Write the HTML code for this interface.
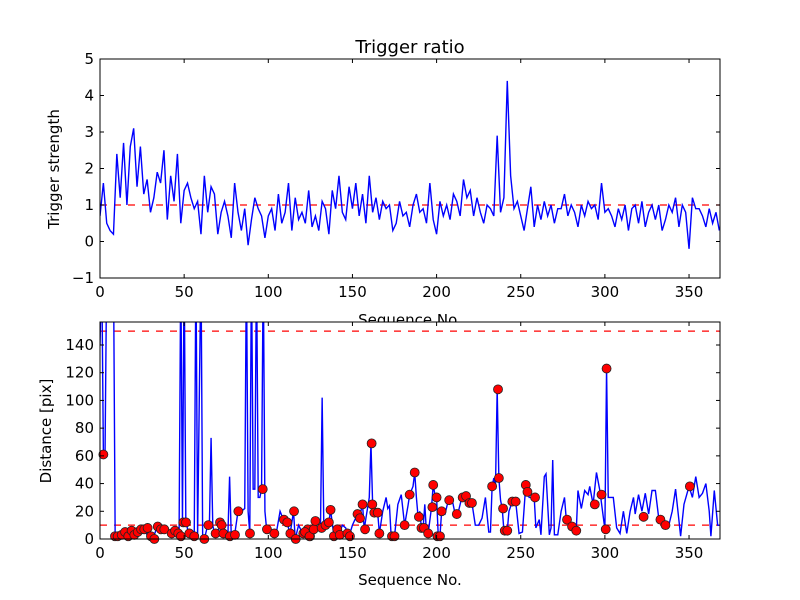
<!DOCTYPE html>
<html><head><meta charset="utf-8"><style>
html,body{margin:0;padding:0;background:#fff;}
svg{display:block;font-family:"DejaVu Sans","Liberation Sans",sans-serif;}
</style></head><body>
<svg id="fig" width="800" height="600" viewBox="0 0 800 600">
<rect width="800" height="600" fill="#fff"/>
<defs>
<clipPath id="c1"><rect x="100" y="59" width="620" height="219"/></clipPath>
<clipPath id="c2"><rect x="100" y="322" width="620" height="217"/></clipPath>
</defs>
<text x="410" y="53" font-size="18" text-anchor="middle">Trigger ratio</text>
<text x="410" y="325" font-size="15" text-anchor="middle">Sequence No.</text>
<g id="top"></g>
<g id="bot"></g>
<text x="410" y="585" font-size="15" text-anchor="middle">Sequence No.</text>
<text transform="translate(59,169) rotate(-90)" font-size="15" text-anchor="middle">Trigger strength</text>
<text transform="translate(51,431) rotate(-90)" font-size="15" text-anchor="middle">Distance [pix]</text>
</svg>
<script>
// Top chart: trigger strength sampled every 2 sequence numbers
const topSeq = [];
const topVals = [0.7,1.6,0.5,0.3,0.2,2.4,1.2,2.7,1.0,2.6,3.1,1.5,2.6,1.3,1.7,0.8,1.2,1.9,1.6,2.5,0.6,1.8,1.1,2.4,0.5,1.4,1.6,1.2,0.9,1.1,0.2,1.8,0.8,1.5,1.3,0.2,0.8,1.1,0.7,0.1,1.6,0.8,0.3,0.9,-0.1,0.6,1.2,0.9,0.7,0.1,0.7,0.9,0.3,1.3,0.5,0.8,1.6,0.3,1.2,0.6,0.8,0.5,1.4,0.4,0.7,0.3,1.1,0.9,0.2,1.4,0.9,1.8,0.8,0.6,1.5,0.9,1.6,0.7,1.3,0.5,1.8,0.8,1.2,0.6,1.1,0.9,1.0,0.3,0.5,1.1,0.7,0.8,0.4,1.0,1.3,0.8,0.9,0.5,1.6,0.6,0.2,1.1,0.7,1.0,0.6,1.3,1.1,0.7,1.7,1.2,1.4,0.7,1.2,0.8,0.5,1.0,0.9,0.7,2.9,0.8,1.2,4.4,1.8,0.9,1.1,0.7,0.3,0.9,1.5,0.4,1.0,0.6,1.1,0.7,1.0,0.5,0.9,0.9,1.3,0.7,1.0,0.8,0.4,1.0,0.7,1.1,0.9,1.0,0.6,1.6,0.8,0.9,0.7,0.4,0.9,0.6,1.0,0.3,0.9,1.0,0.5,1.1,0.4,0.8,1.0,0.6,1.0,0.3,0.6,1.0,0.8,1.2,0.4,1.0,0.8,-0.2,1.2,0.9,0.9,0.7,0.4,0.9,0.5,0.8,0.3];
for (let i = 0; i < topVals.length; i++) topSeq.push(i * 2);
const topTicksY = [-1,0,1,2,3,4,5];
const ticksX = [0,50,100,150,200,250,300,350];
const topThreshold = [1];

// Bottom chart
const botSeq = [0,1,2,3,4,8,9,10,12,14,16,18,20,22,24,26,28,30,32,34,36,38,40,42,44,46,47,48,49,50,51,53,56,57,58,60,61,62,64,65,66,67,68,70,72,74,76,77,78,80,82,84,86,87,88,89,90,91,92,93,94,95,96,97,98,99,101,103,105,107,109,111,113,115,116,118,120,122,124,126,128,130,131,132,133,134,136,137,139,141,142,144,146,147,148,150,153,154,156,157,158,160,161,162,163,165,166,168,170,171,172,173,175,177,179,181,183,184,186,187,188,189,190,191,192,193,194,195,197,198,199,200,201,202,203,205,207,209,211,212,213,215,217,219,221,223,225,227,229,231,232,233,234,235,236,237,238,239,240,242,243,245,247,249,251,253,255,258,259,261,262,264,265,267,268,269,270,272,274,276,277,279,281,283,284,286,288,290,291,293,295,297,300,301,302,303,305,307,309,311,313,315,317,318,320,322,324,326,328,330,332,334,336,338,340,342,345,347,350,352,354,356,358,360,362,363,365,367,368];
const botVals = [140,200,62,62,200,200,2,3,2,5,3,6,4,7,5,8,3,1,2,9,7,7,5,4,6,2,5,200,12,200,12,3,2,200,3,200,1,0,10,10,73,10,4,6,10,4,3,45,2,3,20,20,22,200,20,4,200,36,36,200,30,30,36,200,20,7,8,4,6,20,14,12,4,20,0,10,5,4,2,7,13,10,8,102,8,10,12,21,2,7,3,10,8,4,2,10,18,15,25,7,15,30,69,25,19,19,4,20,30,22,24,2,2,25,32,10,24,32,38,48,30,16,20,8,8,25,4,4,23,39,32,30,2,2,20,18,28,30,18,18,20,30,31,26,26,10,10,15,30,5,5,38,44,38,108,44,28,22,6,6,20,27,27,4,5,39,30,30,8,14,3,45,47,3,8,57,3,3,20,30,15,10,5,6,35,22,35,32,38,25,48,35,7,123,30,30,30,8,4,20,4,20,30,18,32,20,33,18,35,35,15,13,8,10,20,36,2,25,38,30,45,30,33,40,20,2,35,10,10];
const dotSeq = [2,8.9,10.5,12.9,14.9,16.8,18.8,20.4,22.4,24.4,26.3,28.3,30.3,32.3,34.3,36.2,38.2,42.6,44.6,46.5,48.1,49.5,51.1,53.1,56,62,64.4,68.7,71.3,72.3,73.3,77.2,80.2,82.2,89.1,96.7,99.2,103.6,109.3,111.3,113.1,115.3,116.3,120.8,123.4,124.8,121.8,124.5,127,128,131.7,134,136,137,139,141,142.5,147,148.5,153,154.5,156,157.5,161.4,161.8,163,165,166,173.5,175,181,184,187,189.5,191,192.5,195,197.5,198,200,200.5,202,203,207.5,212,215.5,217.5,219.5,221,233,236.5,237,239.5,240.5,242,245,247,253,254,258.5,277.5,280.5,283,294,298,300.5,301,323,333,336,350.5];
const dotVals = [61,2,2,3,5,2,6,3,5,7,7,8,2,0,9,7,7,4,6,4,2,12,12,4,2,0,10,4,12,10,4,2,3,20,4,36,7,4,14,12,4,20,0,4,7,2,5,2,7,13,8,10,12,21,2,7,3,4,2,18,15,25,7,69,25,19,19,4,2,2,10,32,48,16,8,8,4,23,39,30,2,2,20,28,18,30,31,26,26,38,108,44,22,6,6,27,27,39,34,30,14,9,6,25,32,7,123,16,14,10,38];
const botTicksY = [0,20,40,60,80,100,120,140];
const botThresholds = [10,150];

const NS = 'http://www.w3.org/2000/svg';
function mk(parent, tag, attrs) {
  const e = document.createElementNS(NS, tag);
  for (const k in attrs) e.setAttribute(k, attrs[k]);
  parent.appendChild(e);
  return e;
}
const X0 = 100, X1 = 720, XMAX = 368.4;
function sx(v) { return X0 + v / XMAX * (X1 - X0); }
function scaleY(top, bottom, ymin, ymax) {
  return v => bottom - (v - ymin) / (ymax - ymin) * (bottom - top);
}
function axes(g, top, bottom, sy, yTicks, prefix) {
  const frame = mk(g, 'rect', {x: X0, y: top, width: X1 - X0, height: bottom - top, fill: 'none', stroke: '#000', 'stroke-width': 1});
  
  
  ticksX.forEach(t => {
    const x = sx(t);
    mk(g, 'line', {x1: x, x2: x, y1: bottom, y2: bottom - 4, stroke: '#000'});
    mk(g, 'line', {x1: x, x2: x, y1: top, y2: top + 4, stroke: '#000'});
    const tx = mk(g, 'text', {x: x, y: bottom + 19, 'font-size': 15, 'text-anchor': 'middle'});
    tx.textContent = t;
    
    
  });
  yTicks.forEach(t => {
    const y = sy(t);
    mk(g, 'line', {x1: X0, x2: X0 + 4, y1: y, y2: y, stroke: '#000'});
    mk(g, 'line', {x1: X1, x2: X1 - 4, y1: y, y2: y, stroke: '#000'});
    const ty = mk(g, 'text', {x: X0 - 6, y: y + 5, 'font-size': 15, 'text-anchor': 'end'});
    ty.textContent = String(t).replace('-', '\u2212');
    
    
  });
}
// Top panel
const gt = document.getElementById('top');
mk(gt, 'rect', {x: X0, y: 59, width: 620, height: 219, fill: '#fff'});
const syT = scaleY(59, 278, -1, 5);
const ct = mk(gt, 'g', {'clip-path': 'url(#c1)'});
topThreshold.forEach(v => {
  const l = mk(ct, 'line', {x1: X0, x2: X1, y1: syT(v), y2: syT(v), stroke: '#f00', 'stroke-width': 1.2, 'stroke-dasharray': '7,7'});
  
  
});
const pt = mk(ct, 'polyline', {fill: 'none', stroke: '#00f', 'stroke-width': 1.4, points: topVals.map((v, i) => sx(topSeq[i]) + ',' + syT(v)).join(' ')});


axes(gt, 59, 278, syT, topTicksY, 'top');

// Bottom panel
const gb = document.getElementById('bot');
mk(gb, 'rect', {x: X0, y: 322, width: 620, height: 217, fill: '#fff'});
const syB = scaleY(322, 539, 0, 156.6);
const cb = mk(gb, 'g', {'clip-path': 'url(#c2)'});
botThresholds.forEach(v => {
  const l = mk(cb, 'line', {x1: X0, x2: X1, y1: syB(v), y2: syB(v), stroke: '#f00', 'stroke-width': 1.2, 'stroke-dasharray': '7,7'});
  
  
});
const pb = mk(cb, 'polyline', {fill: 'none', stroke: '#00f', 'stroke-width': 1.4, points: botVals.map((v, i) => sx(botSeq[i]) + ',' + syB(v)).join(' ')});


const gd = mk(gb, 'g', {});
dotVals.forEach((v, i) => {
  const c = mk(gd, 'circle', {cx: sx(dotSeq[i]), cy: syB(v), r: 4.5, fill: '#f00', stroke: '#222', 'stroke-width': 0.8});
  
  
});
axes(gb, 322, 539, syB, botTicksY, 'bottom');
</script>
</body></html>
